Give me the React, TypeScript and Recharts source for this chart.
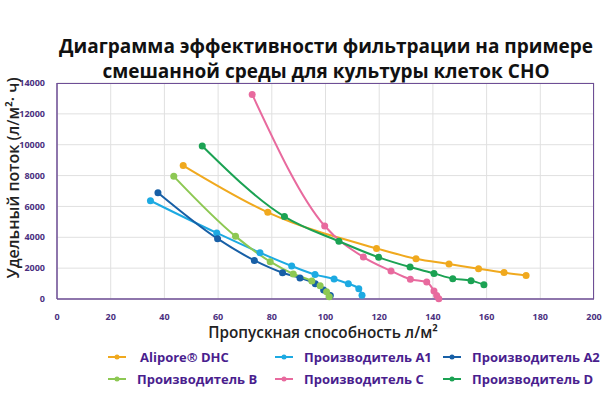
import React from 'react';
import { LineChart, Line, XAxis, YAxis, CartesianGrid } from 'recharts';

const xTicks = [0, 20, 40, 60, 80, 100, 120, 140, 160, 180, 200];
const yTicks = [0, 2000, 4000, 6000, 8000, 10000, 12000, 14000];

const alipore = [
  { x: 47, y: 8650 }, { x: 78.5, y: 5620 }, { x: 119, y: 3280 }, { x: 133.7, y: 2610 },
  { x: 146, y: 2270 }, { x: 157, y: 1960 }, { x: 166.5, y: 1710 }, { x: 174.7, y: 1530 },
];
const makerA1 = [
  { x: 34.8, y: 6370 }, { x: 59.5, y: 4280 }, { x: 75.6, y: 3000 }, { x: 87.4, y: 2140 },
  { x: 96.1, y: 1580 }, { x: 103.2, y: 1300 }, { x: 108.5, y: 990 }, { x: 112.4, y: 670 },
  { x: 113.6, y: 240 },
];
const makerA2 = [
  { x: 37.6, y: 6890 }, { x: 59.8, y: 3910 }, { x: 73.5, y: 2500 }, { x: 84, y: 1700 },
  { x: 90.5, y: 1360 }, { x: 96.2, y: 990 }, { x: 99.3, y: 580 }, { x: 101.8, y: 230 },
];
const makerB = [
  { x: 43.5, y: 7950 }, { x: 66.5, y: 4060 }, { x: 79.4, y: 2420 }, { x: 88, y: 1620 },
  { x: 94.9, y: 1170 }, { x: 98, y: 860 }, { x: 100.4, y: 475 }, { x: 101.4, y: 150 },
];
const makerC = [
  { x: 72.7, y: 13260 }, { x: 99.7, y: 4730 }, { x: 114.1, y: 2720 }, { x: 124.4, y: 1820 },
  { x: 131.6, y: 1280 }, { x: 137.7, y: 1100 }, { x: 140.4, y: 520 }, { x: 141.4, y: 220 },
  { x: 142.2, y: 20 },
];
const makerD = [
  { x: 54.1, y: 9920 }, { x: 84.7, y: 5340 }, { x: 105, y: 3740 }, { x: 119.8, y: 2700 },
  { x: 131.5, y: 2070 }, { x: 140.4, y: 1660 }, { x: 147.4, y: 1320 }, { x: 154.2, y: 1190 },
  { x: 159, y: 930 },
];

const series = [
  { name: 'Alipore® DHC', data: alipore, color: '#F0A91E' },
  { name: 'Производитель A1', data: makerA1, color: '#1DAAE2' },
  { name: 'Производитель A2', data: makerA2, color: '#175FA6' },
  { name: 'Производитель B', data: makerB, color: '#8DC853' },
  { name: 'Производитель C', data: makerC, color: '#E86A9E' },
  { name: 'Производитель D', data: makerD, color: '#1BA253' },
];

const legendCols = [108, 275, 443];
const tickStyle = { fill: '#4B2F80', fontSize: 9, fontWeight: 700 };
const font = '"Open Sans", sans-serif';

export default function App() {
  return (
    <div style={{ position: 'absolute', left: 0, top: 0, width: 611, height: 407, background: '#fff', fontFamily: font }}>
      <div style={{ position: 'absolute', left: 0, top: 34, width: 652, textAlign: 'center', fontSize: 19, fontWeight: 700, lineHeight: '25px', color: '#111' }}>
        Диаграмма эффективности фильтрации на примере<br />смешанной среды для культуры клеток CHO
      </div>
      <LineChart width={611} height={407} margin={{ top: 83, right: 17, bottom: 83, left: 10 }}>
        <CartesianGrid stroke="#E0E0E0" vertical horizontal />
        <XAxis
          type="number"
          dataKey="x"
          domain={[0, 200]}
          ticks={xTicks}
          tick={tickStyle}
          tickLine={false}
          axisLine={{ stroke: '#6E4E96', strokeWidth: 1.5 }}
          tickMargin={9}
          height={25}
          allowDuplicatedCategory={false}
        />
        <YAxis
          type="number"
          dataKey="y"
          domain={[0, 14000]}
          ticks={yTicks}
          tick={tickStyle}
          tickLine={false}
          axisLine={{ stroke: '#6E4E96', strokeWidth: 1.5 }}
          tickMargin={6}
          width={47}
        />
        {series.map((s) => (
          <Line
            key={s.name}
            data={s.data}
            dataKey="y"
            name={s.name}
            type="monotone"
            stroke={s.color}
            strokeWidth={2}
            dot={{ r: 3.5, fill: s.color, stroke: s.color, strokeWidth: 0 }}
            isAnimationActive={false}
          />
        ))}
      </LineChart>
      <div style={{ position: 'absolute', left: 57, top: 83, width: 537, height: 216, border: '1.5px solid #6E4E96', borderLeft: 'none', borderBottom: 'none', boxSizing: 'border-box', pointerEvents: 'none' }} />
      <div style={{ position: 'absolute', left: 0, top: 323, width: 646, textAlign: 'center', fontSize: 15.3, lineHeight: '18px', fontWeight: 600, color: '#222' }}>
        Пропускная способность л/м²
      </div>
      <svg width={30} height={300} style={{ position: 'absolute', left: 0, top: 30 }}>
        <text
          x={13}
          y={148}
          transform="rotate(-90, 13, 148)"
          textAnchor="middle"
          dominantBaseline="central"
          fontSize={16}
          fontWeight={600}
          fill="#222"
          fontFamily={font}
          textLength={201}
          lengthAdjust="spacingAndGlyphs"
        >
          Удельный поток  (л/м²· ч)
        </text>
      </svg>
      {series.map((s, i) => (
        <div key={s.name} style={{ position: 'absolute', left: legendCols[i % 3], top: 348 + Math.floor(i / 3) * 22, display: 'flex', alignItems: 'center', height: 18, fontSize: 13, fontWeight: 700, color: '#4A1E8E', whiteSpace: 'nowrap' }}>
          <svg width={18} height={8} style={{ marginRight: i === 0 ? 14 : 11 }}>
            <line x1={0} y1={4} x2={18} y2={4} stroke={s.color} strokeWidth={2} />
            <circle cx={9} cy={4} r={2.5} fill={s.color} />
          </svg>
          {s.name}
        </div>
      ))}
    </div>
  );
}
